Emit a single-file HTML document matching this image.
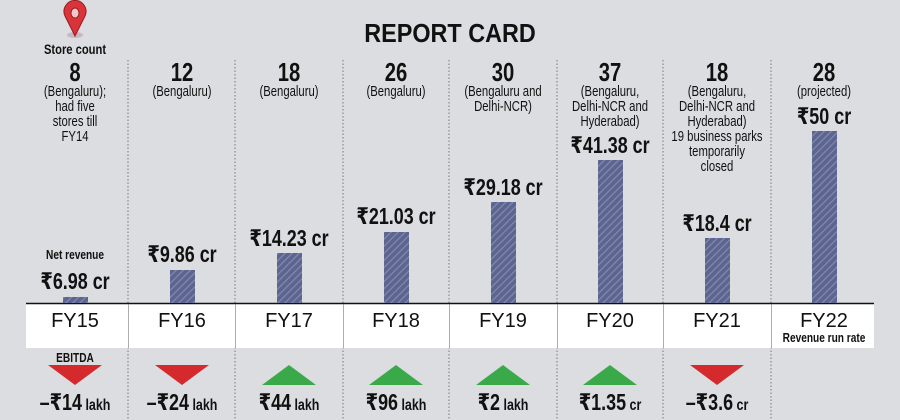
<!DOCTYPE html>
<html><head><meta charset="utf-8"><style>
html,body{margin:0;padding:0;background:#dcdde0;}
svg{display:block}
text{font-family:"Liberation Sans","DejaVu Sans",sans-serif;fill:#111;text-anchor:middle}
.n{font-weight:bold;font-size:26px}
.s{font-size:14.5px}
.v{font-weight:bold;font-size:23px}
.fy{font-size:20px}
.e{font-weight:bold;font-size:23px}
</style></head><body>
<svg width="900" height="420" viewBox="0 0 900 420" xmlns="http://www.w3.org/2000/svg">
<defs>
<pattern id="h" width="5" height="5" patternUnits="userSpaceOnUse" patternTransform="rotate(45)">
<rect width="5" height="5" fill="#5b6590"/><rect width="1.3" height="5" fill="#8088ab"/>
</pattern>
</defs>
<rect width="900" height="420" fill="#dcdde0"/>
<g transform="translate(450 0) scale(0.9 1)"><text x="0" y="42" style="font-weight:bold;font-size:26px">REPORT CARD</text></g>
<!-- pin -->
<ellipse cx="75" cy="35" rx="8" ry="3" fill="#c9b7c0"/>
<path d="M75 36 L65 16 A11 11 0 1 1 85 16 Z" fill="#d8343a" stroke="#9a1c22" stroke-width="1"/>
<ellipse cx="75" cy="13" rx="4" ry="5" fill="#f4c8c8" stroke="#9a1c22" stroke-width="1"/>
<g transform="translate(75 0) scale(0.8 1)"><text x="0" y="54" style="font-weight:bold;font-size:14px">Store count</text></g>
<!-- dividers -->
<g stroke="#777" stroke-width="1" stroke-dasharray="1.5,2">
<line x1="128" y1="60" x2="128" y2="420"/><line x1="235" y1="60" x2="235" y2="420"/>
<line x1="343" y1="60" x2="343" y2="420"/><line x1="449" y1="60" x2="449" y2="420"/>
<line x1="557" y1="60" x2="557" y2="420"/><line x1="663" y1="60" x2="663" y2="420"/>
<line x1="771" y1="60" x2="771" y2="420"/>
</g>
<!-- white band -->
<rect x="26" y="303" width="848" height="45" fill="#fff"/>
<line x1="26" y1="303.5" x2="874" y2="303.5" stroke="#111" stroke-width="1.5"/>
<g fill="#777" opacity="0.6"><rect x="128" y="304" width="1" height="44"/><rect x="235" y="304" width="1" height="44"/><rect x="343" y="304" width="1" height="44"/><rect x="449" y="304" width="1" height="44"/><rect x="557" y="304" width="1" height="44"/><rect x="663" y="304" width="1" height="44"/><rect x="771" y="304" width="1" height="44"/></g>
<!-- bars -->
<rect x="63" y="297" width="25" height="6" fill="url(#h)"/>
<rect x="170" y="270" width="25" height="33" fill="url(#h)"/>
<rect x="277" y="253" width="25" height="50" fill="url(#h)"/>
<rect x="384" y="232" width="25" height="71" fill="url(#h)"/>
<rect x="491" y="202" width="25" height="101" fill="url(#h)"/>
<rect x="598" y="160" width="25" height="143" fill="url(#h)"/>
<rect x="705" y="238" width="25" height="65" fill="url(#h)"/>
<rect x="812" y="131" width="25" height="172" fill="url(#h)"/>

<g transform="translate(75 0) scale(0.78 1)">
<text class="n" x="0" y="81">8</text>
<text class="s" x="0" y="96">(Bengaluru);</text><text class="s" x="0" y="111">had five</text><text class="s" x="0" y="126">stores till</text><text class="s" x="0" y="141">FY14</text>
<text x="0" y="259" style="font-weight:bold;font-size:13px">Net revenue</text>
<text class="v" x="0" y="289">₹6.98 cr</text>
<text x="0" y="362" style="font-weight:bold;font-size:13px">EBITDA</text>
<text class="e" x="0" y="410">–₹14<tspan style="font-size:16px"> lakh</tspan></text>
</g>
<g transform="translate(182 0) scale(0.78 1)">
<text class="n" x="0" y="81">12</text><text class="s" x="0" y="96">(Bengaluru)</text>
<text class="v" x="0" y="262">₹9.86 cr</text>
<text class="e" x="0" y="410">–₹24<tspan style="font-size:16px"> lakh</tspan></text>
</g>
<g transform="translate(289 0) scale(0.78 1)">
<text class="n" x="0" y="81">18</text><text class="s" x="0" y="96">(Bengaluru)</text>
<text class="v" x="0" y="246">₹14.23 cr</text>
<text class="e" x="0" y="410">₹44<tspan style="font-size:16px"> lakh</tspan></text>
</g>
<g transform="translate(396 0) scale(0.78 1)">
<text class="n" x="0" y="81">26</text><text class="s" x="0" y="96">(Bengaluru)</text>
<text class="v" x="0" y="224">₹21.03 cr</text>
<text class="e" x="0" y="410">₹96<tspan style="font-size:16px"> lakh</tspan></text>
</g>
<g transform="translate(503 0) scale(0.78 1)">
<text class="n" x="0" y="81">30</text><text class="s" x="0" y="96">(Bengaluru and</text><text class="s" x="0" y="111">Delhi-NCR)</text>
<text class="v" x="0" y="195">₹29.18 cr</text>
<text class="e" x="0" y="410">₹2<tspan style="font-size:16px"> lakh</tspan></text>
</g>
<g transform="translate(610 0) scale(0.78 1)">
<text class="n" x="0" y="81">37</text><text class="s" x="0" y="96">(Bengaluru,</text><text class="s" x="0" y="111">Delhi-NCR and</text><text class="s" x="0" y="126">Hyderabad)</text>
<text class="v" x="0" y="153">₹41.38 cr</text>
<text class="e" x="0" y="410">₹1.35<tspan style="font-size:16px"> cr</tspan></text>
</g>
<g transform="translate(717 0) scale(0.78 1)">
<text class="n" x="0" y="81">18</text><text class="s" x="0" y="96">(Bengaluru,</text><text class="s" x="0" y="111">Delhi-NCR and</text><text class="s" x="0" y="126">Hyderabad)</text><text class="s" x="0" y="141">19 business parks</text><text class="s" x="0" y="156">temporarily</text><text class="s" x="0" y="171">closed</text>
<text class="v" x="0" y="231">₹18.4 cr</text>
<text class="e" x="0" y="410">–₹3.6<tspan style="font-size:16px"> cr</tspan></text>
</g>
<g transform="translate(824 0) scale(0.78 1)">
<text class="n" x="0" y="81">28</text><text class="s" x="0" y="96">(projected)</text>
<text class="v" x="0" y="124">₹50 cr</text>
<text x="0" y="342" style="font-weight:bold;font-size:13px">Revenue run rate</text>
</g>
<!-- FY -->
<text class="fy" x="75" y="327">FY15</text><text class="fy" x="182" y="327">FY16</text><text class="fy" x="289" y="327">FY17</text><text class="fy" x="396" y="327">FY18</text><text class="fy" x="503" y="327">FY19</text><text class="fy" x="610" y="327">FY20</text><text class="fy" x="717" y="327">FY21</text><text class="fy" x="824" y="327">FY22</text>
<!-- EBITDA triangles -->
<g fill="#d42a2e">
<polygon points="48,365 102,365 75,385"/><polygon points="155,365 209,365 182,385"/><polygon points="690,365 744,365 717,385"/>
</g>
<g fill="#3aa94a">
<polygon points="262,385 316,385 289,365"/><polygon points="369,385 423,385 396,365"/><polygon points="476,385 530,385 503,365"/><polygon points="583,385 637,385 610,365"/>
</g>
</svg>
</body></html>
